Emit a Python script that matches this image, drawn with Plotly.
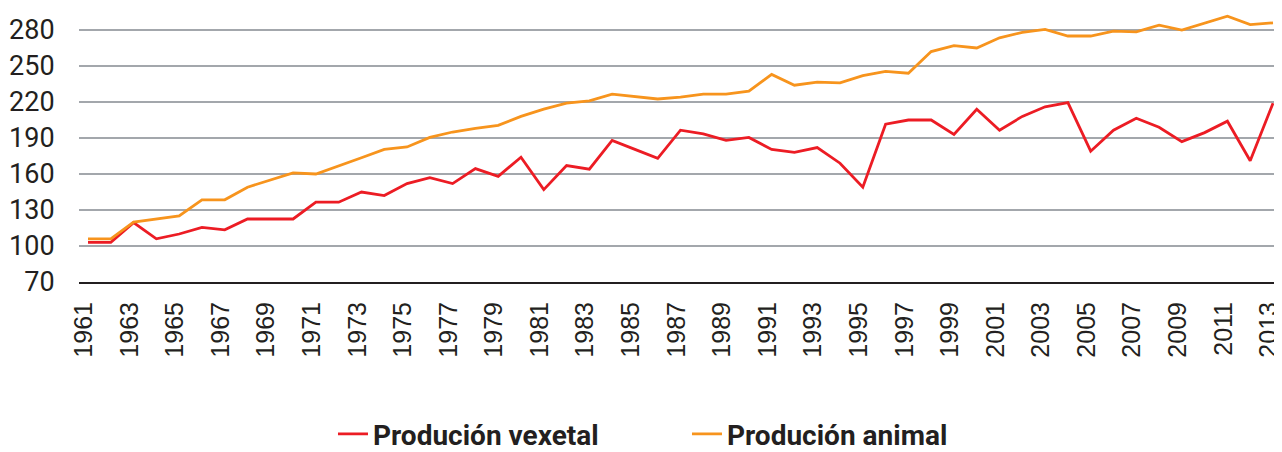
import plotly.graph_objects as go

years = list(range(1961, 2014))

vexetal = [103, 103, 119.5, 106, 110, 115.5, 113.5, 122.5, 122.5, 122.5,
           136.5, 136.5, 145, 142, 152, 157, 152, 164.5, 158, 174,
           147, 167, 164, 188, 180.5, 173, 196.5, 193.5, 188, 190.5,
           180.5, 178, 182, 169, 149, 201.5, 205, 205, 193, 214,
           196.5, 208, 216, 219.5, 179, 196.5, 206.5, 199, 187, 194.5,
           204, 171, 219]

animal = [106, 106, 120, 122.5, 125, 138.5, 138.5, 149, 155, 161,
          160, 166.5, 173.5, 180.5, 182.5, 190.5, 195, 198, 200.5, 208,
          214, 219, 221, 226.5, 224.5, 222.5, 224, 226.5, 226.5, 229,
          243, 234, 236.5, 236, 242, 245.5, 244, 262, 267, 265,
          273.5, 278, 280.5, 275, 275, 279, 278.5, 284, 280, 286,
          291.5, 284.5, 286]

y_ticks = [70, 100, 130, 160, 190, 220, 250, 280]
series_names = ["Produción vexetal", "Produción animal"]

fig = go.Figure()
fig.add_trace(go.Scatter(x=years, y=vexetal, mode="lines", name=series_names[0],
                         line=dict(color="#ec1c24", width=2.8)))
fig.add_trace(go.Scatter(x=years, y=animal, mode="lines", name=series_names[1],
                         line=dict(color="#f7941d", width=2.8)))

fig.update_layout(
    width=1282, height=452,
    margin=dict(l=71, r=8, t=0, b=178, autoexpand=False),
    plot_bgcolor="white", paper_bgcolor="white",
    showlegend=True,
    legend=dict(orientation="h", xref="container", yref="container",
                x=0.2535, xanchor="left", y=0.057, yanchor="middle",
                font=dict(family="Roboto", size=28, color="#231f20", weight="bold"),
                entrywidth=309, tracegroupgap=0),
    xaxis=dict(range=[1960.605, 2013.395], tickmode="linear", tick0=1961, dtick=2,
               tickangle=-90, showgrid=False, zeroline=False, automargin=False,
               showline=True, linecolor="#231f20", linewidth=2,
               ticks="outside", ticklen=8, tickcolor="rgba(0,0,0,0)",
               ticklabeloverflow="allow", ticklabelshift=-4,
               tickfont=dict(family="Liberation Sans", size=25, color="#231f20")),
    yaxis=dict(range=[70, 298.33], tickmode="array", tickvals=y_ticks, automargin=False,
               showgrid=True, gridcolor="#a3a7ac", gridwidth=1.5, zeroline=False,
               ticks="outside", ticklen=18, tickcolor="rgba(0,0,0,0)",
               tickfont=dict(family="Roboto", size=27, color="#231f20")),
)

fig.write_html("out.html")
